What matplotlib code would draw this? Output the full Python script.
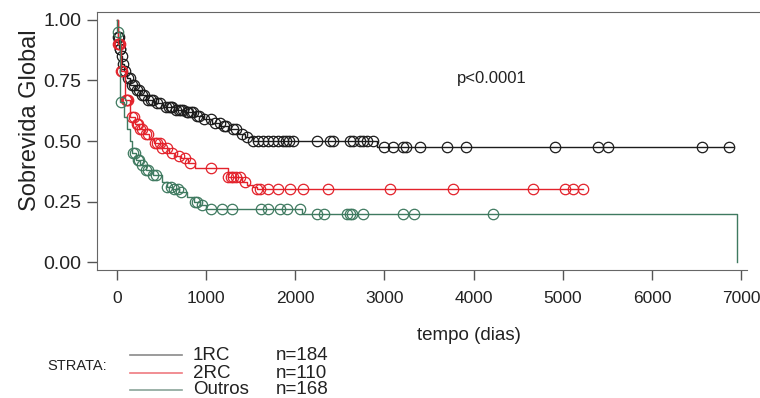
import numpy as np
import matplotlib.pyplot as plt
from matplotlib.lines import Line2D

plt.rcParams['font.family'] = ['Liberation Sans', 'DejaVu Sans']

# Kaplan-Meier steps (time in days, survival) and censor times
rc1_t = [0, 10, 25, 40, 60, 80, 110, 150, 200, 260, 330, 420, 520, 640, 760, 880, 960,
         1060, 1160, 1260, 1360, 1440, 1520, 2915]
rc1_s = [1.0, 0.93, 0.88, 0.85, 0.82, 0.79, 0.76, 0.73, 0.71, 0.69, 0.67, 0.655, 0.64,
         0.63, 0.62, 0.605, 0.59, 0.575, 0.56, 0.55, 0.53, 0.515, 0.50, 0.475]
rc1_end = 6910
rc1_cens = [15, 20, 30, 35, 50, 65, 90, 120, 140, 170, 190, 220, 250, 280, 300, 350, 380,
            400, 450, 480, 550, 580, 600, 620, 660, 690, 720, 740, 780, 800, 830, 850, 900,
            920, 980, 1050, 1100, 1150, 1200, 1220, 1300, 1330, 1400, 1460, 1527, 1580,
            1639, 1690, 1751, 1800, 1864, 1900, 1930, 1976, 2238, 2388, 2425, 2612, 2650,
            2724, 2760, 2799, 2874, 2990, 3100, 3210, 3240, 3400, 3700, 3920, 4910, 5400,
            5510, 6560, 6860]

rc2_t = [0, 5, 40, 90, 150, 200, 250, 300, 360, 420, 500, 580, 650, 720, 800, 880, 1250,
         1400, 1460, 1520, 1570]
rc2_s = [1.0, 0.90, 0.79, 0.67, 0.60, 0.57, 0.55, 0.53, 0.51, 0.49, 0.47, 0.45, 0.44,
         0.43, 0.41, 0.39, 0.35, 0.33, 0.32, 0.31, 0.30]
rc2_end = 5230
rc2_cens = [10, 20, 30, 45, 60, 100, 110, 120, 170, 190, 220, 240, 260, 280, 330, 350,
            430, 450, 480, 500, 560, 620, 700, 760, 820, 1050, 1250, 1280, 1300, 1340,
            1380, 1430, 1570, 1600, 1690, 1800, 1940, 2090, 2370, 3060, 3770, 4670, 5025,
            5120, 5230]

out_t = [0, 3, 30, 80, 110, 140, 170, 210, 260, 320, 400, 500, 560, 620, 700, 780, 860,
         930, 1000, 2070, 6955]
out_s = [1.0, 0.95, 0.66, 0.60, 0.55, 0.50, 0.45, 0.42, 0.40, 0.38, 0.36, 0.33, 0.31,
         0.30, 0.29, 0.27, 0.25, 0.235, 0.22, 0.20, 0.0]
out_end = 6955
out_cens = [5, 40, 180, 200, 230, 250, 280, 320, 350, 400, 440, 560, 600, 640, 680, 720,
            870, 900, 950, 1050, 1180, 1290, 1610, 1690, 1830, 1910, 2050, 2240, 2320,
            2580, 2610, 2640, 2760, 3210, 3330, 4220]

strata = ['1RC', '2RC', 'Outros']
counts = ['n=184', 'n=110', 'n=168']
colors = ['#1c1c1c', '#e3222b', '#3f7a60']
legend_colors = ['#8a8a8a', '#ef7a80', '#8aa49a']


def surv_at(times, surv, t):
    idx = np.searchsorted(times, t, side='right') - 1
    return np.array(surv)[idx]


W, H = 760, 398
fig = plt.figure(figsize=(W / 100, H / 100), dpi=100)
ax = fig.add_axes([97 / W, (H - 270) / H, (W - 97) / W, 258 / H])

curves = [(rc1_t, rc1_s, rc1_end, rc1_cens),
          (rc2_t, rc2_s, rc2_end, rc2_cens),
          (out_t, out_s, out_end, out_cens)]
for (t, s, end, cens), c in zip(curves, colors):
    tt = list(t)
    ss = list(s)
    if end > tt[-1]:
        tt.append(end)
        ss.append(ss[-1])
    ax.step(tt, ss, where='post', color=c, lw=1.0)
    ax.plot(cens, surv_at(t, s, cens), 'o', mfc='none', mec=c, ms=7.5, mew=0.9)

ax.text(3813, 0.76, 'p<0.0001', fontsize=12, ha='left', va='center', color='#222222')

ax.set_xlim(-225, 7213)
ax.set_ylim(-0.033, 1.033)
ax.set_xticks(np.arange(0, 7001, 1000))
ax.set_yticks([0, 0.25, 0.5, 0.75, 1.0])
ax.set_yticklabels(['0.00', '0.25', '0.50', '0.75', '1.00'])
ax.tick_params(direction='out', length=7, width=1, colors='#555555', labelcolor='#222222')
ax.tick_params(axis='x', labelsize=12.5, pad=8)
ax.tick_params(axis='y', labelsize=14, pad=4)
ax.spines['right'].set_visible(False)
for side in ['left', 'top', 'bottom']:
    ax.spines[side].set_color('#666666')
ax.spines['bottom'].set_bounds(-225, 7070)

fig.text(30 / W, 1 - 120 / H, 'Sobrevida Global', rotation=90, fontsize=17,
         ha='center', va='center', color='#222222')
fig.text(469 / W, 1 - 335 / H, 'tempo (dias)', fontsize=13.5, ha='center', va='center',
         color='#222222')

# STRATA legend drawn below the plot
fig.text(47 / W, 1 - 366 / H, 'STRATA:', fontsize=10.5, ha='left', va='center',
         color='#222222')
rows_y = [355, 373, 390]
for i in range(3):
    y = 1 - rows_y[i] / H
    fig.add_artist(Line2D([130 / W, 182 / W], [y, y], transform=fig.transFigure,
                          color=legend_colors[i], lw=1.2))
    fig.text(193 / W, y, strata[i], fontsize=13.5, ha='left', va='center', color='#222222')
    fig.text(276 / W, y, counts[i], fontsize=13.5, ha='left', va='center', color='#222222')

fig.savefig('out.png', dpi=100, facecolor='white')
